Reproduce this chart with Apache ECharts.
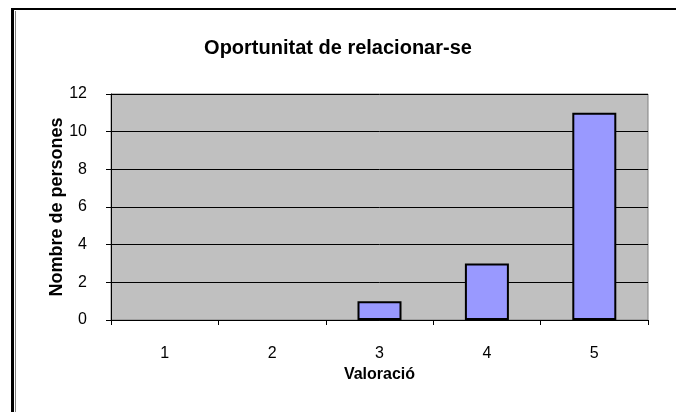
<!DOCTYPE html>
<html>
<head>
<meta charset="utf-8">
<script src="https://cdn.jsdelivr.net/npm/echarts@6/dist/echarts.min.js"></script>
<style>
html,body{margin:0;padding:0;background:#fff;}
#c{width:676px;height:412px;}
</style>
</head>
<body>
<div id="c"></div>
<script>
const categories = ['1', '2', '3', '4', '5'];
const values = [0, 0, 1, 3, 11];
const titleText = 'Oportunitat de relacionar-se';
const xName = 'Valoració';
const yName = 'Nombre de persones';

const chart = echarts.init(document.getElementById('c'), null, {renderer: 'canvas'});
const FONT = '"Liberation Sans", Arial, sans-serif';
chart.setOption({
  animation: false,
  backgroundColor: '#ffffff',
  textStyle: {fontFamily: FONT},
  title: {
    text: titleText,
    left: 'center',
    top: 38,
    padding: 0,
    textStyle: {fontFamily: FONT, fontSize: 20, fontWeight: 'bold', color: '#000'}
  },
  graphic: [
    {type: 'rect', shape: {x: 11, y: 8, width: 665, height: 2}, style: {fill: '#000'}, silent: true},
    {type: 'rect', shape: {x: 11, y: 8, width: 3, height: 404}, style: {fill: '#000'}, silent: true},
    {type: 'rect', shape: {x: 15, y: 11, width: 1, height: 401}, style: {fill: '#808080'}, silent: true}
  ],
  grid: {
    left: 111, top: 94, width: 537, height: 226,
    show: true, backgroundColor: '#C0C0C0', borderColor: '#808080', borderWidth: 1
  },
  xAxis: {
    type: 'category',
    data: categories,
    boundaryGap: true,
    name: xName,
    nameLocation: 'middle',
    nameGap: 47,
    nameMoveOverlap: false,
    nameTextStyle: {fontFamily: FONT, fontSize: 16, fontWeight: 'bold', color: '#000'},
    axisLine: {show: true, lineStyle: {color: '#000', width: 1}},
    axisTick: {show: true, length: 5, interval: 0, lineStyle: {color: '#000'}},
    axisLabel: {margin: 26, fontFamily: FONT, fontSize: 16, color: '#000', interval: 0},
    splitLine: {show: false}
  },
  yAxis: {
    type: 'value',
    min: 0, max: 12, interval: 2,
    name: yName,
    nameLocation: 'middle',
    nameGap: 45,
    nameMoveOverlap: false,
    nameRotate: 90,
    nameTextStyle: {fontFamily: FONT, fontSize: 18, fontWeight: 'bold', color: '#000'},
    axisLine: {show: true, lineStyle: {color: '#000', width: 1}},
    axisTick: {show: true, length: 5, lineStyle: {color: '#000'}},
    axisLabel: {margin: 24, fontFamily: FONT, fontSize: 16, color: '#000'},
    splitLine: {show: true, lineStyle: {color: '#000', width: 1}}
  },
  series: [{
    type: 'bar',
    data: values.map(v => v === 0 ? {value: v, itemStyle: {borderWidth: 0}} : v),
    barWidth: 44,
    itemStyle: {color: '#9999FF', borderColor: '#000', borderWidth: 2}
  }]
});
</script>
</body>
</html>
